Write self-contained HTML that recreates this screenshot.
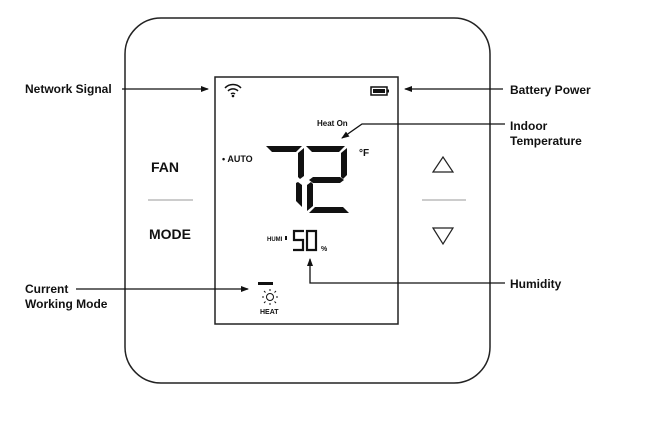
<!DOCTYPE html>
<html><head><style>
body{margin:0;background:#fff;width:646px;height:424px;overflow:hidden}
svg{display:block}
text{font-family:"Liberation Sans",Arial,sans-serif;fill:#111}
</style></head><body>
<svg width="646" height="424" viewBox="0 0 646 424">
<defs><marker id="a" markerWidth="8" markerHeight="8" refX="7" refY="4" orient="auto" markerUnits="userSpaceOnUse"><path d="M0,1 L8,4 L0,7 Z" fill="#111"/></marker></defs>
<rect x="125" y="18" width="365" height="365" rx="36" fill="#fff" stroke="#222" stroke-width="1.5"/>
<rect x="215" y="77" width="183" height="247" fill="#fff" stroke="#222" stroke-width="1.5"/>
<text x="151" y="172" font-size="14" font-weight="bold">FAN</text>
<line x1="148" y1="200" x2="193" y2="200" stroke="#999" stroke-width="1"/>
<text x="149" y="239" font-size="14" font-weight="bold">MODE</text>
<path d="M433,172 L443,157 L453,172 Z" fill="none" stroke="#222" stroke-width="1.2"/>
<path d="M433,228 L443,244 L453,228 Z" fill="none" stroke="#222" stroke-width="1.2"/>
<line x1="422" y1="200" x2="466" y2="200" stroke="#999" stroke-width="1"/>
<!-- wifi -->
<g fill="none" stroke="#111" stroke-width="1.5">
<path d="M225,88 A11,11 0 0 1 241,88"/><path d="M228,91 A7,7 0 0 1 238,91"/><path d="M231,94 A3,3 0 0 1 235,94"/></g>
<circle cx="233" cy="96" r="1.3" fill="#111"/>
<rect x="371" y="87" width="16" height="8" fill="none" stroke="#111" stroke-width="1.5"/>
<rect x="373" y="89" width="12" height="4" fill="#111"/><rect x="387" y="89.5" width="2" height="3" fill="#111"/>
<text x="317" y="126" font-size="8" font-weight="bold">Heat On</text>
<text x="222" y="162" font-size="9" font-weight="bold">• AUTO</text>
<text x="359" y="156" font-size="10" font-weight="bold">°F</text>
<!-- 7 -->
<g fill="#111">
<polygon points="266,146 302,146 296,152 272,152"/>
<polygon points="298,153 304,148 304,176 300,179 298,177"/>
<polygon points="296,183 298,182 302,185 302,207 296,201"/>
<!-- 2 -->
<polygon points="306,146 345,146 339,152 312,152"/>
<polygon points="341,153 347,148 347,175 343,179 341,177"/>
<polygon points="313,177 340,177 344,180 340,183 313,183 309,180"/>
<polygon points="307,185 311,182 313,184 313,206 307,211"/>
<polygon points="309,213 315,207 343,207 349,213"/>
</g>
<text x="267" y="241" font-size="6" font-weight="bold">HUMI</text>
<rect x="285" y="236" width="2" height="4" fill="#111"/>
<g fill="none" stroke="#111" stroke-width="2.2">
<path d="M304,231 L294,231 L294,240 L303,240 L303,250 L293,250"/>
<path d="M307,231 L316,231 L316,250 L307,250 Z"/>
</g>
<text x="321" y="251" font-size="7" font-weight="bold">%</text>
<rect x="258" y="282" width="15" height="3" fill="#111"/>
<circle cx="270" cy="297" r="3.5" fill="none" stroke="#111" stroke-width="1"/>
<g stroke="#111" stroke-width="1"><line x1="270" y1="289" x2="270" y2="291"/><line x1="270" y1="303" x2="270" y2="305"/><line x1="262" y1="297" x2="264" y2="297"/><line x1="276" y1="297" x2="278" y2="297"/><line x1="264" y1="291" x2="265.5" y2="292.5"/><line x1="276" y1="291" x2="274.5" y2="292.5"/><line x1="264" y1="303" x2="265.5" y2="301.5"/><line x1="276" y1="303" x2="274.5" y2="301.5"/></g>
<text x="260" y="314" font-size="7" font-weight="bold">HEAT</text>
<!-- labels -->
<g font-size="12" font-weight="bold">
<text x="25" y="93">Network Signal</text>
<text x="510" y="94">Battery Power</text>
<text x="510" y="130">Indoor</text>
<text x="510" y="145">Temperature</text>
<text x="510" y="288">Humidity</text>
<text x="25" y="293">Current</text>
<text x="25" y="308">Working Mode</text>
</g>
<g stroke="#111" stroke-width="1.3" fill="none">
<line x1="122" y1="89" x2="208" y2="89" marker-end="url(#a)"/>
<line x1="503" y1="89" x2="405" y2="89" marker-end="url(#a)"/>
<polyline points="505,124 362,124 342,138" marker-end="url(#a)"/>
<polyline points="505,283 310,283 310,259" marker-end="url(#a)"/>
<line x1="76" y1="289" x2="248" y2="289" marker-end="url(#a)"/>
</g>
</svg>
</body></html>
